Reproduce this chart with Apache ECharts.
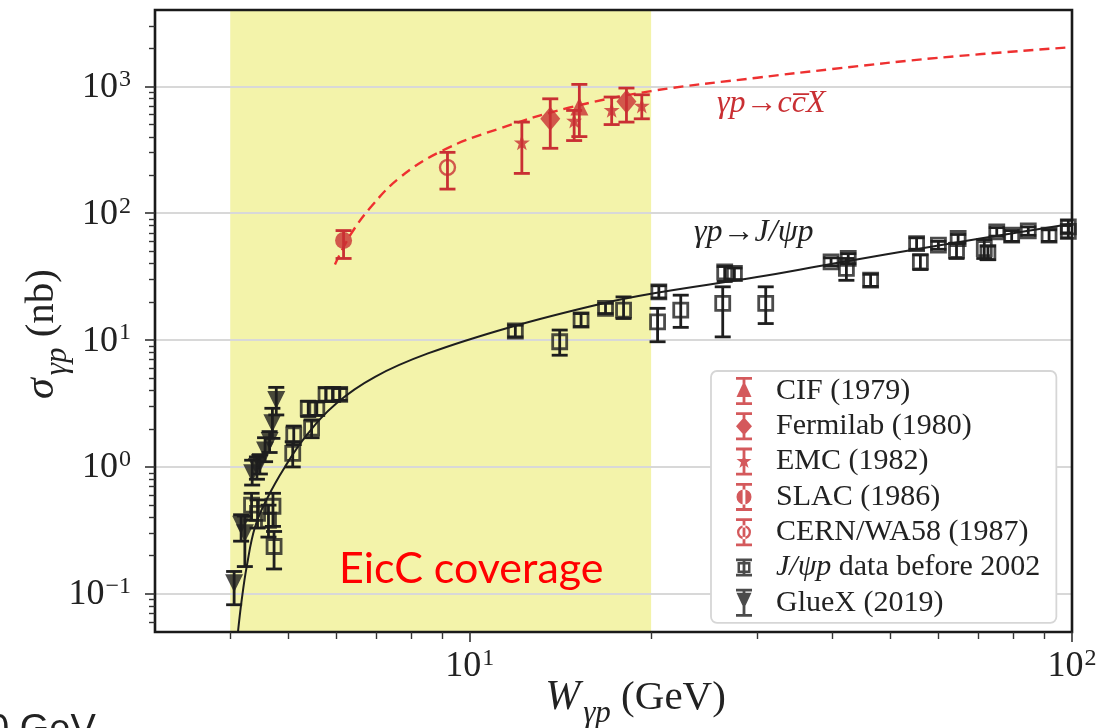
<!DOCTYPE html>
<html>
<head>
<meta charset="utf-8">
<script src="https://cdn.jsdelivr.net/npm/echarts@6/dist/echarts.min.js"></script>
<style>html,body{margin:0;padding:0;background:#fff;}#c{width:1105px;height:728px;}</style>
</head>
<body>
<div id="c"></div>
<script>
// ---------------- data ----------------
const xTickMajor = [10, 100];
const xTickMinor = [4, 5, 6, 7, 8, 9, 20, 30, 40, 50, 60, 70, 80, 90];
const yTickMajor = [0.1, 1, 10, 100, 1000];
const yTickMinor = [0.06, 0.07, 0.08, 0.09, 0.2, 0.3, 0.4, 0.5, 0.6, 0.7, 0.8, 0.9,
  2, 3, 4, 5, 6, 7, 8, 9, 20, 30, 40, 50, 60, 70, 80, 90, 200, 300, 400, 500, 600, 700, 800, 900, 2000, 3000];
const xTickLabels = {10: '10{s|1}', 100: '10{s|2}'};
const yTickLabels = {0.1: '10{s|\u22121}', 1: '10{s|0}', 10: '10{s|1}', 100: '10{s|2}', 1000: '10{s|3}'};

const coverageW = [4, 20];

// fits
const ccbarFitW   = [5.97, 6.34, 6.87, 7.65, 8.99, 11.15, 14.6, 20, 30, 40, 60, 100];
const ccbarFitSig = [39.5, 68, 114, 191, 311, 462, 678, 918, 1170, 1370, 1680, 2040];
const jpsiFitW    = [4.12, 4.18, 4.26, 4.40, 4.62, 4.93, 5.33, 6.0, 6.96, 8.52, 11.7, 16.4, 20, 30, 40, 60, 100];
const jpsiFitSig  = [0.05, 0.09, 0.164, 0.339, 0.58, 1.0, 1.73, 3.17, 5.14, 7.85, 12.7, 19.2, 23.2, 31.4, 40, 55.7, 82.5];

// data sets: W, sigma, lower, upper
const cifW = [15.2], cifSig = [695], cifLo = [402], cifHi = [1037];
const fnalW = [13.6, 18.2], fnalSig = [555, 761], fnalLo = [325, 523], fnalHi = [798, 970];
const emcW = [12.2, 14.9, 17.2, 19.3], emcSig = [362, 538, 653, 707], emcLo = [206, 374, 500, 555], emcHi = [523, 646, 824, 859];
const slacW = [6.17], slacSig = [61], slacLo = [44], slacHi = [73];
const cernW = [9.18], cernSig = [230], cernLo = [155], cernHi = [302];
const gluexW   = [4.06, 4.17, 4.23, 4.35, 4.43, 4.48, 4.57, 4.65, 4.70, 4.77];
const gluexSig = [0.121, 0.35, 0.30, 0.89, 1.0, 1.07, 1.35, 1.6, 2.21, 3.37];
const gluexLo  = [0.082, 0.26, 0.164, 0.72, 0.8, 0.88, 1.1, 1.3, 1.68, 2.57];
const gluexHi  = [0.15, 0.42, 0.41, 1.13, 1.2, 1.25, 1.7, 1.9, 2.9, 4.24];
const jpsiW   = [4.34, 4.44, 4.63, 4.71, 4.73, 5.08, 5.10, 5.39, 5.46, 5.57, 5.77, 5.92, 6.08,
  11.9, 14.1, 15.3, 16.8, 18.0, 20.6, 20.5, 22.4, 26.3, 26.5, 27.5, 31.0,
  39.8, 42.5, 42.2, 46.3, 55.2, 56.0, 60.0, 64.7, 64.3, 71.5, 72.5, 75.0, 79.4, 84.6, 91.6, 98.6, 98.6];
const jpsiSig = [0.50, 0.43, 0.38, 0.49, 0.236, 1.28, 1.79, 2.9, 2.02, 2.9, 3.74, 3.74, 3.74,
  11.8, 9.7, 14.4, 17.8, 17.2, 24.0, 13.9, 17.2, 19.5, 34.5, 33.5, 19.5,
  41.4, 44, 36.7, 29.7, 57.7, 41.4, 56, 63.2, 51, 52.7, 49, 71.3, 67.1, 72.6, 67.1, 78, 72];
const jpsiLo  = [0.38, 0.33, 0.28, 0.34, 0.157, 1.0, 1.5, 2.5, 1.7, 2.55, 3.3, 3.3, 3.35,
  10.6, 7.6, 12.8, 16.2, 14.8, 21.5, 9.7, 12.6, 10.6, 29, 30, 13.5,
  38.5, 40, 29.6, 26.5, 52, 36, 52, 58, 44, 44, 43, 66, 60, 67, 60, 70, 64];
const jpsiHi  = [0.62, 0.55, 0.50, 0.62, 0.31, 1.58, 2.1, 3.3, 2.35, 3.25, 4.2, 4.2, 4.15,
  13.1, 12.0, 16.2, 19.5, 21.9, 26.8, 17.8, 22.6, 26.3, 38, 37, 26.3,
  44.5, 48, 44, 33, 64, 47, 60, 68, 58, 62, 55, 77, 73, 78, 74, 88, 80];

// ---------------- styling ----------------
const RED = '#c92f33', RED_FIT = '#ee3030', BLK = '#1e1e1e';
const SERIF = 'Liberation Serif';
const STAR = 'path://M50,0 L61.8,35.1 L98.1,35.1 L68.8,56.8 L79.4,91.2 L50,70 L20.6,91.2 L31.2,56.8 L1.9,35.1 L38.2,35.1 Z';
const CAPS28 = 'M0,0 H16 V2.8 H0 Z M0,25.2 H16 V28 H0 Z M6.6,0 H9.4 V28 H6.6 Z ';
const CAPS18 = 'M0,0 H16 V2.8 H0 Z M0,15.2 H16 V18 H0 Z M6.6,0 H9.4 V18 H6.6 Z ';
const icons = {
  cif: 'path://' + CAPS28 + 'M8,4 L15.5,20 L0.5,20 Z',
  fnal: 'path://' + CAPS28 + 'M8,5 L16,14 L8,23 L0,14 Z',
  emc: 'path://' + CAPS28 + 'M8,6 L9.8,11.5 L15.5,11.5 L10.9,14.9 L12.6,20.3 L8,17 L3.4,20.3 L5.1,14.9 L0.5,11.5 L6.2,11.5 Z',
  slac: 'path://' + CAPS28 + 'M0.5,14 A7.5,7.5 0 1,0 15.5,14 A7.5,7.5 0 1,0 0.5,14 Z',
  cern: 'path://' + CAPS28 + 'M1,14 A7,7 0 1,0 15,14 A7,7 0 1,0 1,14 Z M3.3,14 A4.7,4.7 0 1,1 12.7,14 A4.7,4.7 0 1,1 3.3,14 Z',
  jpsi: 'path://' + CAPS18 + 'M1.5,3.5 H14.5 V14.5 H1.5 Z M4,6 V12 H12 V6 Z',
  gluex: 'path://' + CAPS28 + 'M0.5,4 L15.5,4 L8,20 Z'
};

function zip(a, b) { return a.map((v, i) => [v, b[i]]); }
function zip4(a, b, c, d) { return a.map((v, i) => [v, b[i], c[i], d[i]]); }

function errSeries(name, W, S, L, H, color, cap) {
  return {
    type: 'custom', name: name, z: 4, silent: true, clip: true,
    encode: {x: 0, y: 1},
    data: zip4(W, S, L, H),
    renderItem: function (params, api) {
      const x = api.value(0);
      const p1 = api.coord([x, api.value(2)]);
      const p2 = api.coord([x, api.value(3)]);
      const st = {stroke: color, lineWidth: 2.8};
      return {type: 'group', children: [
        {type: 'line', shape: {x1: p1[0], y1: p1[1], x2: p2[0], y2: p2[1]}, style: st},
        {type: 'line', shape: {x1: p1[0] - cap, y1: p1[1], x2: p1[0] + cap, y2: p1[1]}, style: st},
        {type: 'line', shape: {x1: p2[0] - cap, y1: p2[1], x2: p2[0] + cap, y2: p2[1]}, style: st}
      ]};
    }
  };
}
function markSeries(name, W, S, symbol, size, style, rotate) {
  return {
    type: 'scatter', name: name, z: 5, silent: true,
    data: zip(W, S), symbol: symbol, symbolSize: size, symbolRotate: rotate || 0,
    itemStyle: style
  };
}

const NAMES = ['CIF (1979)', 'Fermilab (1980)', 'EMC (1982)', 'SLAC (1986)', 'CERN/WA58 (1987)', 'J/\u03c8p data before 2002', 'GlueX (2019)'];

const chart = echarts.init(document.getElementById('c'), null, {renderer: 'canvas'});
const tickRich = {
  b: {fontFamily: SERIF, fontSize: 36, color: '#222', verticalAlign: 'bottom'},
  s: {fontFamily: SERIF, fontSize: 24, color: '#222', verticalAlign: 'bottom', padding: [0, 0, 14, 1]}
};
const nameRich = {
  f: {fontFamily: SERIF, fontStyle: 'italic', fontSize: 42, color: '#222', verticalAlign: 'bottom'},
  sub: {fontFamily: SERIF, fontStyle: 'italic', fontSize: 31, color: '#222', verticalAlign: 'bottom', padding: [0, 0, -10, 3]},
  n: {fontFamily: SERIF, fontSize: 41, color: '#222', verticalAlign: 'bottom'}
};
chart.setOption({
  animation: false,
  backgroundColor: '#fff',
  grid: {left: 155, right: 33, top: 10, bottom: 96, outerBoundsMode: 'none', containLabel: false,
    show: true, borderColor: '#1a1a1a', borderWidth: 2.6, backgroundColor: 'transparent', z: 10},
  xAxis: [
    {type: 'log', min: 3, max: 100, position: 'bottom', z: 10,
     axisLine: {show: false},
     axisTick: {show: true, customValues: xTickMajor, length: 10, lineStyle: {color: '#333', width: 1.6}},
     axisLabel: {show: true, customValues: xTickMajor, margin: 15, formatter: v => '{b|' + xTickLabels[v].replace('{s|', '}{s|'), rich: tickRich},
     splitLine: {show: false},
     name: '{f|W}{sub|\u03b3p}{n| (GeV)}', nameLocation: 'middle', nameGap: 45, nameMoveOverlap: false,
     nameTextStyle: {rich: nameRich, padding: [0, 0, 0, 44]}},
    {type: 'log', min: 3, max: 100, position: 'bottom', z: 10,
     axisLine: {show: false},
     axisTick: {show: true, customValues: xTickMinor, length: 7, lineStyle: {color: '#333', width: 1.4}},
     axisLabel: {show: false}, splitLine: {show: false}}
  ],
  yAxis: [
    {type: 'log', min: 0.05, max: 4000, position: 'left', z: 10,
     axisLine: {show: false},
     axisTick: {show: true, customValues: yTickMajor, length: 10, lineStyle: {color: '#333', width: 1.6}},
     axisLabel: {show: true, customValues: yTickMajor, margin: 24, formatter: v => '{b|' + yTickLabels[v].replace('{s|', '}{s|'), rich: tickRich},
     splitLine: {show: false},
     name: '{f|\u03c3}{sub|\u03b3p}{n| (nb)}', nameLocation: 'middle', nameGap: 92, nameRotate: 90, nameMoveOverlap: false,
     nameTextStyle: {rich: nameRich, padding: [0, 26, 0, 0]}},
    {type: 'log', min: 0.05, max: 4000, position: 'left', z: 10,
     axisLine: {show: false},
     axisTick: {show: true, customValues: yTickMinor, length: 6, lineStyle: {color: '#333', width: 1.4}},
     axisLabel: {show: false}, splitLine: {show: false}}
  ],
  legend: {
    show: true, orient: 'vertical', left: 711, top: 371, z: 20,
    padding: [5, 16, 5, 25], itemGap: 5.3, itemWidth: 16, itemHeight: 28,
    symbolKeepAspect: true, selectedMode: false,
    backgroundColor: '#fff', borderColor: '#d6d6d6', borderWidth: 1.8, borderRadius: 6,
    textStyle: {fontFamily: SERIF, fontSize: 30, color: '#222', lineHeight: 28, padding: [0, 0, 0, 19],
      rich: {i: {fontFamily: SERIF, fontStyle: 'italic', fontSize: 30, color: '#222', lineHeight: 28}}},
    formatter: n => n.indexOf('J/') === 0 ? '{i|J/\u03c8p} data before 2002' : n,
    data: [
      {name: NAMES[0], icon: icons.cif, itemStyle: {color: RED, borderWidth: 0}},
      {name: NAMES[1], icon: icons.fnal, itemStyle: {color: RED, borderWidth: 0}},
      {name: NAMES[2], icon: icons.emc, itemStyle: {color: RED, borderWidth: 0}},
      {name: NAMES[3], icon: icons.slac, itemStyle: {color: RED, borderWidth: 0}},
      {name: NAMES[4], icon: icons.cern, itemStyle: {color: RED, borderWidth: 0}},
      {name: NAMES[5], icon: icons.jpsi, itemStyle: {color: BLK, borderWidth: 0}},
      {name: NAMES[6], icon: icons.gluex, itemStyle: {color: BLK, borderWidth: 0}}
    ]
  },
  graphic: [
    {type: 'text', left: 339, top: 548, z: 20, silent: true,
     style: {text: 'EicC coverage', fontFamily: 'Lato', fontSize: 43, fill: '#ff0000'}},
    {type: 'text', left: 717, top: 88, z: 20, silent: true,
     style: {text: '\u03b3p\u2192cc\u0305X', fontFamily: SERIF, fontStyle: 'italic', fontSize: 32, fill: RED}},
    {type: 'text', left: 694, top: 217, z: 20, silent: true,
     style: {text: '\u03b3p\u2192J/\u03c8p', fontFamily: SERIF, fontStyle: 'italic', fontSize: 32, fill: '#222'}},
    {type: 'text', left: -12, top: 712, z: 20, silent: true,
     style: {text: '0 GeV', fontFamily: 'Liberation Sans', fontSize: 38, fill: '#222'}}
  ],
  series: [
    {type: 'line', name: 'band', z: 1, silent: true, data: [],
     markArea: {silent: true, z: 1, itemStyle: {color: '#f3f3aa'}, data: [[{xAxis: coverageW[0], yAxis: 0.05}, {xAxis: coverageW[1], yAxis: 4000}]]}},
    {type: 'line', name: 'gridlines', z: 2, silent: true, data: [],
     markLine: {silent: true, z: 2, symbol: ['none', 'none'], label: {show: false},
       lineStyle: {color: '#d8d8d8', width: 2, type: 'solid'},
       data: yTickMajor.map(v => ({yAxis: v}))}},
    {type: 'line', name: 'ccbar fit', z: 3, silent: true, data: zip(ccbarFitW, ccbarFitSig), smooth: 0.4,
     showSymbol: false, symbol: 'none', lineStyle: {color: RED_FIT, width: 2.4, type: [10, 6]}},
    {type: 'line', name: 'jpsi fit', z: 3, silent: true, data: zip(jpsiFitW, jpsiFitSig), smooth: 0.4, clip: true,
     showSymbol: false, symbol: 'none', lineStyle: {color: BLK, width: 2}},
    markSeries(NAMES[0], cifW, cifSig, 'triangle', 18, {color: RED}),
    markSeries(NAMES[1], fnalW, fnalSig, 'diamond', [20, 24], {color: RED}),
    markSeries(NAMES[2], emcW, emcSig, STAR, 16, {color: RED}),
    markSeries(NAMES[3], slacW, slacSig, 'circle', 17, {color: RED}),
    markSeries(NAMES[4], cernW, cernSig, 'circle', 15, {color: 'rgba(0,0,0,0)', borderColor: RED, borderWidth: 2.4}),
    markSeries(NAMES[5], jpsiW, jpsiSig, 'rect', 14, {color: 'rgba(0,0,0,0)', borderColor: BLK, borderWidth: 2.8}),
    markSeries(NAMES[6], gluexW, gluexSig, 'triangle', 18, {color: BLK}, 180),
    errSeries('errCIF', cifW, cifSig, cifLo, cifHi, RED, 8),
    errSeries('errFNAL', fnalW, fnalSig, fnalLo, fnalHi, RED, 8),
    errSeries('errEMC', emcW, emcSig, emcLo, emcHi, RED, 8),
    errSeries('errSLAC', slacW, slacSig, slacLo, slacHi, RED, 8),
    errSeries('errCERN', cernW, cernSig, cernLo, cernHi, RED, 8),
    errSeries('errJPSI', jpsiW, jpsiSig, jpsiLo, jpsiHi, BLK, 8),
    errSeries('errGLUEX', gluexW, gluexSig, gluexLo, gluexHi, BLK, 8)
  ]
});
</script>
</body>
</html>
